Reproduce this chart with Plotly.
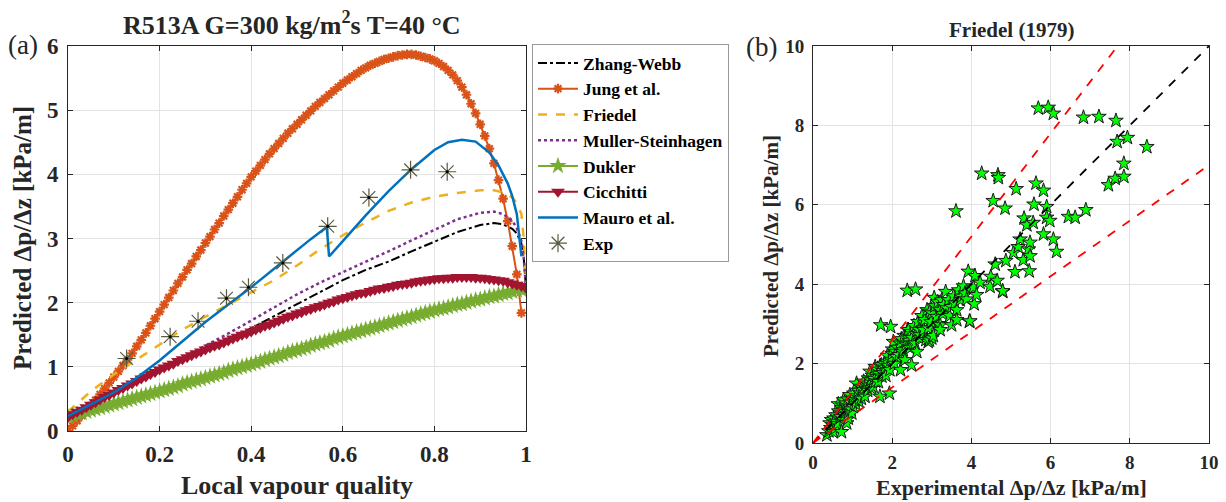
import plotly.graph_objects as go

# ---------------- panel (a): pressure gradient vs vapour quality ----------------
x_fine = [round(i * 0.01, 2) for i in range(101)]

jung_x = x_fine[:100]
jung_y = [0.00, 0.08, 0.16, 0.24, 0.32, 0.40, 0.48, 0.57, 0.66, 0.75,
          0.84, 0.93, 1.02, 1.11, 1.21, 1.32, 1.42, 1.53, 1.64, 1.75,
          1.86, 1.97, 2.08, 2.19, 2.30, 2.40, 2.51, 2.61, 2.72, 2.82,
          2.93, 3.03, 3.14, 3.24, 3.35, 3.45, 3.55, 3.65, 3.76, 3.86,
          3.96, 4.05, 4.14, 4.23, 4.32, 4.40, 4.48, 4.56, 4.64, 4.71,
          4.78, 4.85, 4.92, 4.99, 5.06, 5.12, 5.18, 5.24, 5.30, 5.36,
          5.42, 5.47, 5.52, 5.57, 5.62, 5.66, 5.70, 5.73, 5.76, 5.79,
          5.81, 5.83, 5.85, 5.86, 5.87, 5.87, 5.86, 5.84, 5.82, 5.80,
          5.77, 5.73, 5.68, 5.62, 5.55, 5.46, 5.36, 5.24, 5.10, 4.95,
          4.78, 4.60, 4.40, 4.17, 3.91, 3.62, 3.27, 2.88, 2.44, 1.84]

dukler_y = [0.22, 0.24, 0.26, 0.28, 0.30, 0.32, 0.34, 0.36, 0.38, 0.40,
            0.42, 0.44, 0.46, 0.48, 0.50, 0.52, 0.54, 0.56, 0.58, 0.60,
            0.62, 0.64, 0.66, 0.68, 0.70, 0.73, 0.75, 0.77, 0.79, 0.81,
            0.83, 0.85, 0.87, 0.89, 0.91, 0.94, 0.96, 0.98, 1.00, 1.02,
            1.04, 1.06, 1.08, 1.11, 1.13, 1.15, 1.17, 1.19, 1.22, 1.24,
            1.26, 1.28, 1.30, 1.33, 1.35, 1.37, 1.39, 1.41, 1.44, 1.46,
            1.48, 1.50, 1.52, 1.54, 1.56, 1.58, 1.60, 1.62, 1.64, 1.66,
            1.68, 1.70, 1.72, 1.74, 1.76, 1.78, 1.80, 1.82, 1.84, 1.86,
            1.88, 1.90, 1.91, 1.93, 1.95, 1.97, 1.98, 2.00, 2.02, 2.04,
            2.05, 2.07, 2.09, 2.10, 2.12, 2.14, 2.15, 2.17, 2.19, 2.20,
            2.22]

cicchitti_y = [0.22, 0.26, 0.30, 0.33, 0.37, 0.41, 0.45, 0.49, 0.53, 0.56,
               0.60, 0.64, 0.67, 0.71, 0.74, 0.78, 0.82, 0.85, 0.89, 0.92,
               0.96, 0.99, 1.02, 1.05, 1.09, 1.12, 1.15, 1.18, 1.21, 1.24,
               1.27, 1.30, 1.33, 1.35, 1.38, 1.41, 1.44, 1.47, 1.50, 1.52,
               1.55, 1.58, 1.61, 1.64, 1.66, 1.69, 1.72, 1.75, 1.78, 1.80,
               1.83, 1.85, 1.88, 1.90, 1.93, 1.95, 1.97, 2.00, 2.02, 2.05,
               2.07, 2.09, 2.11, 2.13, 2.15, 2.16, 2.18, 2.20, 2.22, 2.23,
               2.25, 2.26, 2.28, 2.29, 2.30, 2.31, 2.33, 2.34, 2.35, 2.36,
               2.37, 2.38, 2.38, 2.39, 2.39, 2.40, 2.40, 2.40, 2.40, 2.39,
               2.39, 2.38, 2.37, 2.36, 2.35, 2.34, 2.32, 2.30, 2.28, 2.26,
               2.23]

x_line = [0, 0.05, 0.10, 0.15, 0.20, 0.25, 0.30, 0.35, 0.40, 0.45, 0.50,
          0.55, 0.60, 0.65, 0.70, 0.75, 0.80, 0.85, 0.90, 0.93, 0.95, 0.97,
          0.98, 0.99, 0.995, 1.0]
zhang_y = [0.20, 0.39, 0.58, 0.77, 0.95, 1.12, 1.28, 1.44, 1.60, 1.79, 1.98,
           2.17, 2.35, 2.51, 2.64, 2.80, 2.95, 3.10, 3.21, 3.24, 3.22, 3.15,
           3.08, 2.92, 2.70, 2.23]
friedel_y = [0.30, 0.62, 0.88, 1.11, 1.35, 1.58, 1.78, 1.97, 2.15, 2.35, 2.58,
             2.83, 3.05, 3.25, 3.43, 3.56, 3.65, 3.71, 3.75, 3.75, 3.72, 3.64,
             3.55, 3.38, 3.00, 2.23]
muller_y = [0.20, 0.38, 0.57, 0.76, 0.95, 1.13, 1.32, 1.52, 1.72, 1.93, 2.13,
            2.31, 2.47, 2.63, 2.80, 2.97, 3.14, 3.30, 3.40, 3.42, 3.38, 3.28,
            3.16, 2.96, 2.70, 2.23]

mauro_x = [0, 0.05, 0.10, 0.15, 0.20, 0.25, 0.30, 0.35, 0.40, 0.45, 0.50,
           0.53, 0.565, 0.57, 0.60, 0.65, 0.70, 0.75, 0.80, 0.83, 0.86, 0.89,
           0.92, 0.94, 0.96, 0.97, 0.98, 0.99]
mauro_y = [0.23, 0.42, 0.60, 0.83, 1.10, 1.40, 1.70, 1.97, 2.24, 2.53, 2.82,
           2.99, 3.18, 2.72, 2.96, 3.36, 3.74, 4.08, 4.38, 4.50, 4.54, 4.51,
           4.34, 4.14, 3.86, 3.66, 3.38, 2.72]

exp_x = [0.128, 0.223, 0.284, 0.346, 0.394, 0.469, 0.567, 0.657, 0.748, 0.828]
exp_y = [1.13, 1.47, 1.71, 2.07, 2.24, 2.62, 3.19, 3.64, 4.07, 4.04]

# ---------------- panel (b): predicted vs experimental (Friedel) ----------------
meas_b = [0.35, 0.40, 0.43, 0.45, 0.47, 0.50, 0.51, 0.53, 0.55, 0.56, 0.58, 0.60,
          0.62, 0.64, 0.65, 0.66, 0.68, 0.70, 0.72, 0.72, 0.74, 0.75, 0.77, 0.77,
          0.79, 0.80, 0.81, 0.83, 0.85, 0.86, 0.88, 0.89, 0.89, 0.90, 0.93, 0.95,
          0.96, 0.98, 1.00, 1.02, 1.03, 1.06, 1.08, 1.10, 1.12, 1.14, 1.16, 1.19,
          1.20, 1.22,
          1.25, 1.27, 1.28, 1.30, 1.31, 1.33, 1.36, 1.38, 1.40, 1.42, 1.44, 1.46,
          1.48, 1.50, 1.52, 1.54, 1.57, 1.58, 1.61, 1.63, 1.65, 1.66, 1.69, 1.70,
          1.71, 1.73, 1.74, 1.76, 1.78, 1.80, 1.82, 1.84, 1.86, 1.88, 1.90, 1.93,
          1.94, 1.96, 1.97, 2.00, 2.01, 2.03, 2.05, 2.08, 2.11, 2.14, 2.17, 2.20,
          2.21, 2.23, 2.25, 2.28, 2.30, 2.32, 2.35, 2.38, 2.38, 2.39, 2.41, 2.43,
          2.45, 2.45, 2.48, 2.49, 2.50, 2.53, 2.55, 2.58, 2.59, 2.60, 2.62, 2.65,
          2.68, 2.70, 2.70,
          2.75, 2.79, 2.79, 2.82, 2.85, 2.88, 2.91, 2.91, 2.94, 2.95, 2.98, 3.00,
          3.00, 3.04, 3.06, 3.08, 3.12, 3.15, 3.18, 3.21, 3.21, 3.21, 3.25, 3.28,
          3.30, 3.35, 3.38, 3.42, 3.45, 3.50, 3.50, 3.55, 3.58, 3.61, 3.63, 3.63,
          3.68, 3.72, 3.75, 3.80, 3.84, 3.88, 3.92, 3.95, 3.96, 4.00, 4.05, 4.07,
          4.09, 4.13, 4.22, 4.26, 4.47, 4.49, 4.55, 4.60, 4.65, 4.67, 4.68,
          4.79, 4.79, 4.85, 4.87, 5.06, 5.10, 5.13, 5.18, 5.23, 5.31, 5.33, 5.40,
          5.44, 5.46, 5.48, 5.48, 5.56, 5.58, 5.63, 5.69, 5.82, 5.82, 5.90, 5.90,
          5.94, 5.98, 6.07, 6.07, 6.15, 6.45, 6.62, 6.83, 6.89, 7.22, 7.46, 7.63,
          7.65, 7.68, 7.85, 7.85, 7.94, 8.43]
pred_b = [0.20, 0.30, 0.50, 0.38, 0.58, 0.45, 0.28, 0.62, 0.52, 0.37, 0.70, 0.54,
          0.48, 0.98, 0.80, 0.62, 0.75, 0.66, 0.28, 0.88, 0.72, 0.95, 0.58, 1.08,
          0.84, 0.70, 0.79, 1.00, 0.50, 0.92, 1.10, 0.62, 0.87, 0.78, 1.21, 1.02,
          0.85, 0.75, 1.12, 0.91, 1.25, 1.08, 0.98, 1.50, 1.18, 1.32, 1.05, 1.42,
          1.25, 1.12,
          1.38, 1.34, 1.55, 1.20, 1.17, 1.48, 1.50, 1.32, 1.63, 1.45, 1.80, 1.58,
          1.38, 1.70, 1.42, 1.62, 1.92, 1.55, 1.67, 1.85, 1.54, 1.75, 1.17, 1.95,
          2.97, 1.96, 1.68, 1.82, 1.76, 2.00, 1.90, 1.70, 2.05, 2.20, 1.95, 1.25,
          1.84, 2.93, 2.10, 2.25, 2.36, 2.55, 2.00, 2.30, 2.17, 2.40, 2.22, 2.51,
          1.84, 2.62, 2.30, 2.34, 2.70, 2.09, 2.48, 2.68, 3.84, 2.85, 2.85, 2.58,
          2.43, 2.39, 2.80, 1.96, 2.65, 2.51, 2.95, 2.51, 3.87, 2.75, 2.30, 3.05,
          2.85, 2.64, 2.72,
          3.20, 2.89, 2.85, 3.10, 2.60, 3.35, 2.89, 2.55, 2.59, 3.31, 3.05, 3.27,
          2.64, 2.70, 3.66, 3.45, 3.18, 3.55, 3.00, 3.35, 2.97, 2.85, 3.60, 3.25,
          3.48, 3.81, 3.40, 3.60, 3.20, 3.43, 2.97, 3.70, 3.52, 5.84, 3.35, 3.10,
          3.85, 3.60, 3.69, 3.95, 3.77, 3.62, 4.32, 3.06, 3.07, 3.85, 3.92, 3.50,
          4.21, 3.73, 4.04, 6.79, 3.94, 4.19, 6.10, 4.50, 4.09, 6.75, 6.68,
          3.81, 3.83, 5.91, 4.59, 4.79, 4.31, 6.40, 4.94, 5.13, 4.61, 5.66, 5.49,
          4.88, 4.33, 5.05, 4.71, 5.55, 6.01, 6.54, 8.43, 6.36, 5.26, 5.95, 5.68,
          8.45, 5.60, 8.30, 5.13, 4.82, 5.70, 5.68, 8.20, 5.87, 8.22, 6.50, 6.66,
          8.12, 7.59, 7.04, 6.71, 7.69, 7.46]

ref_x = [0, 10]
band_hi, band_lo = 1.3, 0.7

SERIF = "Liberation Serif"
INK = "#262626"
C_JUNG, C_FRIEDEL, C_MULLER = "#D95319", "#EDB120", "#7E2F8E"
C_DUKLER, C_CICCHITTI, C_MAURO = "#77AC30", "#A2142F", "#0072BD"
C_EXP = "#5a5a40"

fig = go.Figure()

fig.add_trace(go.Scatter(x=x_line, y=zhang_y, mode="lines", name="Zhang-Webb",
                         line=dict(color="black", width=2, dash="dashdot")))
fig.add_trace(go.Scatter(x=jung_x, y=jung_y, mode="lines+markers", name="Jung et al.",
                         line=dict(color=C_JUNG, width=2),
                         marker=dict(symbol="asterisk-open", size=8, color=C_JUNG,
                                     line=dict(color=C_JUNG, width=2.2))))
fig.add_trace(go.Scatter(x=x_line, y=friedel_y, mode="lines", name="Friedel",
                         line=dict(color=C_FRIEDEL, width=2.5, dash="dash")))
fig.add_trace(go.Scatter(x=x_line, y=muller_y, mode="lines", name="Muller-Steinhagen",
                         line=dict(color=C_MULLER, width=2.5, dash="dot")))
fig.add_trace(go.Scatter(x=x_fine, y=dukler_y, mode="lines+markers", name="Dukler",
                         line=dict(color=C_DUKLER, width=2),
                         marker=dict(symbol="star", size=13, color=C_DUKLER, line=dict(width=0))))
fig.add_trace(go.Scatter(x=x_fine, y=cicchitti_y, mode="lines+markers", name="Cicchitti",
                         line=dict(color=C_CICCHITTI, width=2),
                         marker=dict(symbol="triangle-down", size=12, color=C_CICCHITTI,
                                     line=dict(width=0))))
fig.add_trace(go.Scatter(x=mauro_x, y=mauro_y, mode="lines", name="Mauro et al.",
                         line=dict(color=C_MAURO, width=2.5)))
fig.add_trace(go.Scatter(x=exp_x, y=exp_y, mode="markers", name="Exp", legendgroup="exp",
                         marker=dict(symbol="asterisk-open", size=15, color=C_EXP,
                                     line=dict(color=C_EXP, width=1.2))))
fig.add_trace(go.Scatter(x=exp_x, y=exp_y, mode="markers", legendgroup="exp", showlegend=False,
                         marker=dict(symbol="circle", size=3, color="black")))

# panel (b)
fig.add_trace(go.Scatter(x=meas_b, y=pred_b, mode="markers", showlegend=False,
                         xaxis="x2", yaxis="y2",
                         marker=dict(symbol="star", size=11, color="#00FF00",
                                     line=dict(color="#1a1a1a", width=1))))
fig.add_trace(go.Scatter(x=ref_x, y=ref_x, mode="lines", showlegend=False,
                         xaxis="x2", yaxis="y2",
                         line=dict(color="black", width=1.8, dash="dash")))
for f in (band_hi, band_lo):
    fig.add_trace(go.Scatter(x=ref_x, y=[v * f for v in ref_x], mode="lines", showlegend=False,
                             xaxis="x2", yaxis="y2",
                             line=dict(color="#FF0000", width=1.8, dash="dash")))

W, H = 1226, 502


def px_x(p):
    return p / W


def px_y(p):
    return (H - p) / H


axis_common = dict(showline=True, linecolor=INK, linewidth=1, mirror="ticks",
                   ticks="inside", ticklen=5, tickcolor=INK, showgrid=True,
                   gridcolor="#e3e3e3", gridwidth=1, zeroline=False, automargin=False)

fig.update_layout(
    width=W, height=H,
    margin=dict(l=0, r=0, t=0, b=0, autoexpand=False),
    paper_bgcolor="white", plot_bgcolor="white",
    font=dict(family=SERIF, color=INK),
    xaxis=dict(domain=[px_x(68), px_x(526)], range=[0, 1],
               tickvals=[0, 0.2, 0.4, 0.6, 0.8, 1], ticktext=["0", "0.2", "0.4", "0.6", "0.8", "1"],
               tickfont=dict(family=SERIF, size=23, weight="bold", color=INK),
               anchor="y", ticklabelstandoff=2, **axis_common),
    yaxis=dict(domain=[px_y(431), px_y(46)], range=[0, 6], dtick=1,
               tickfont=dict(family=SERIF, size=23, weight="bold", color=INK),
               anchor="x", ticklabelstandoff=4, **axis_common),
    xaxis2=dict(domain=[px_x(813), px_x(1209)], range=[0, 10], dtick=2,
                tickfont=dict(family=SERIF, size=19, weight="bold", color=INK),
                anchor="y2", ticklabelstandoff=2, **axis_common),
    yaxis2=dict(domain=[px_y(443), px_y(46)], range=[0, 10], dtick=2,
                tickfont=dict(family=SERIF, size=19, weight="bold", color=INK),
                anchor="x2", ticklabelstandoff=4, **axis_common),
    legend=dict(x=px_x(532), y=px_y(44), xanchor="left", yanchor="top",
                bgcolor="white", bordercolor="#999999", borderwidth=1,
                font=dict(family=SERIF, size=17.5, weight="bold", color="black"),
                itemwidth=40, tracegroupgap=0),
    showlegend=True,
)

bold = dict(family=SERIF, weight="bold", color=INK)
annotations = [
    dict(text="R513A G=300 kg/m<sup>2</sup>s T=40 °C", x=px_x(292), y=px_y(24),
         font=dict(size=26, **bold)),
    dict(text="Local vapour quality", x=px_x(297), y=px_y(485), font=dict(size=26, **bold)),
    dict(text="Predicted Δp/Δz [kPa/m]", x=px_x(22), y=px_y(238), textangle=-90,
         font=dict(size=25, **bold)),
    dict(text="(a)", x=px_x(23), y=px_y(45), font=dict(family=SERIF, size=27, color=INK)),
    dict(text="Friedel (1979)", x=px_x(1011), y=px_y(30), font=dict(size=21, **bold)),
    dict(text="Experimental Δp/Δz [kPa/m]", x=px_x(1011), y=px_y(487),
         font=dict(size=22, **bold)),
    dict(text="Predicted Δp/Δz [kPa/m]", x=px_x(771), y=px_y(246), textangle=-90,
         font=dict(size=21, **bold)),
    dict(text="(b)", x=px_x(761), y=px_y(47), font=dict(family=SERIF, size=27, color=INK)),
]
for a in annotations:
    a.update(xref="paper", yref="paper", showarrow=False, xanchor="center", yanchor="middle")
fig.update_layout(annotations=annotations)

fig.write_html("out.html")
